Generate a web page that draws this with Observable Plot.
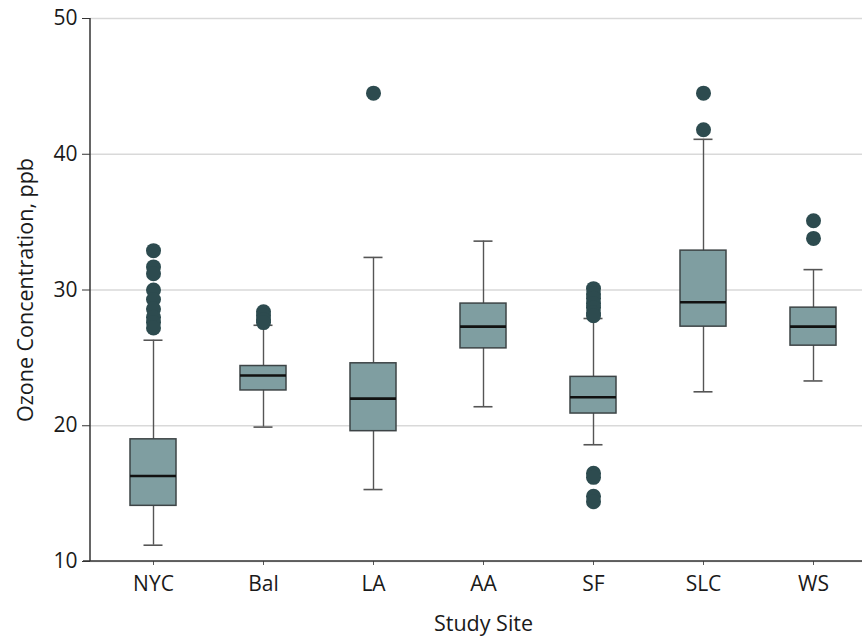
<!DOCTYPE html>
<html>
<head>
<meta charset="utf-8">
<script src="https://cdn.jsdelivr.net/npm/d3@7"></script>
<script src="https://cdn.jsdelivr.net/npm/@observablehq/plot@0.6"></script>
<style>
  html, body { margin: 0; padding: 0; background: #fff; }
</style>
</head>
<body>
<div id="chart"></div>
<script>
const sites = ["NYC", "Bal", "LA", "AA", "SF", "SLC", "WS"];
const whiskerLow  = [11.2, 19.9, 15.3, 21.4, 18.6, 22.5, 23.3];
const q1          = [14.1, 22.6, 19.6, 25.7, 20.9, 27.3, 25.9];
const median      = [16.3, 23.7, 22.0, 27.3, 22.1, 29.1, 27.3];
const q3          = [19.0, 24.4, 24.6, 29.0, 23.6, 32.9, 28.7];
const whiskerHigh = [26.3, 27.4, 32.4, 33.6, 27.9, 41.1, 31.5];
const outliers = [
  [32.9, 31.7, 31.2, 30.0, 29.3, 28.6, 28.0, 27.6, 27.2],
  [28.4, 28.1, 27.8, 27.6],
  [44.5],
  [],
  [30.1, 29.7, 29.4, 29.0, 28.7, 28.3, 28.1, 16.5, 16.2, 14.8, 14.4],
  [44.5, 41.8],
  [35.1, 33.8]
];
const yTicks = [10, 20, 30, 40, 50];
const xLabel = "Study Site";
const yLabel = "Ozone Concentration, ppb";

const boxes = sites.map((s, i) => ({
  site: s, lo: whiskerLow[i], q1: q1[i], med: median[i], q3: q3[i], hi: whiskerHigh[i]
}));
const dots = sites.flatMap((s, i) => outliers[i].map(v => ({site: s, value: v})));

const fontFamily = "'Open Sans', Roboto, sans-serif";

const chart = Plot.plot({
  width: 862,
  height: 636,
  marginTop: 18,
  marginBottom: 75,
  marginLeft: 90,
  marginRight: 0,
  style: {fontFamily, fontSize: "21px", color: "#1a1a1a", background: "#fff"},
  x: {domain: sites, range: [97, 869], paddingInner: 0.583, paddingOuter: 0.2915},
  y: {domain: [10, 50]},
  marks: [
    Plot.gridY(yTicks, {stroke: "#d9d9d9", strokeOpacity: 1, strokeWidth: 1.5}),
    Plot.ruleX(boxes, {x: "site", y1: "lo", y2: "hi", stroke: "#555", strokeWidth: 1.4}),
    Plot.tickY(boxes, {x: "site", y: "lo", stroke: "#555", strokeWidth: 1.6, insetLeft: 13.5, insetRight: 13.5}),
    Plot.tickY(boxes, {x: "site", y: "hi", stroke: "#555", strokeWidth: 1.6, insetLeft: 13.5, insetRight: 13.5}),
    Plot.barY(boxes, {x: "site", y1: "q1", y2: "q3", fill: "#7f9ea1", stroke: "#3d4446", strokeWidth: 1.5}),
    Plot.tickY(boxes, {x: "site", y: "med", stroke: "#111", strokeWidth: 2.6}),
    Plot.dot(dots, {x: "site", y: "value", r: 7.5, fill: "#2d4b4f", stroke: "none"}),
    Plot.axisY({ticks: yTicks, tickSize: 8, tickPadding: 5, label: null, stroke: "#333", fontSize: 21}),
    Plot.axisX({tickSize: 4, tickPadding: 11, label: null, stroke: "#555", fontSize: 21}),
    (index, scales, values, dim) => {
      const g = d3.create("svg:g").attr("stroke", "#333").attr("stroke-width", 1.5);
      const yb = scales.y(10), yt = scales.y(50);
      g.append("line").attr("x1", dim.marginLeft).attr("x2", dim.marginLeft).attr("y1", yt).attr("y2", yb);
      g.append("line").attr("x1", dim.marginLeft - 7).attr("x2", dim.width - dim.marginRight).attr("y1", yb).attr("y2", yb);
      return g.node();
    },
    Plot.text([xLabel], {frameAnchor: "bottom", dy: 69, dx: 7, lineAnchor: "bottom", fontSize: 21.5, fill: "#1a1a1a"}),
    Plot.text([yLabel], {frameAnchor: "left", dx: -64, rotate: -90, textAnchor: "middle", lineAnchor: "middle", fontSize: 21.5, fill: "#1a1a1a"})
  ]
});
document.getElementById("chart").appendChild(chart);
</script>
</body>
</html>
